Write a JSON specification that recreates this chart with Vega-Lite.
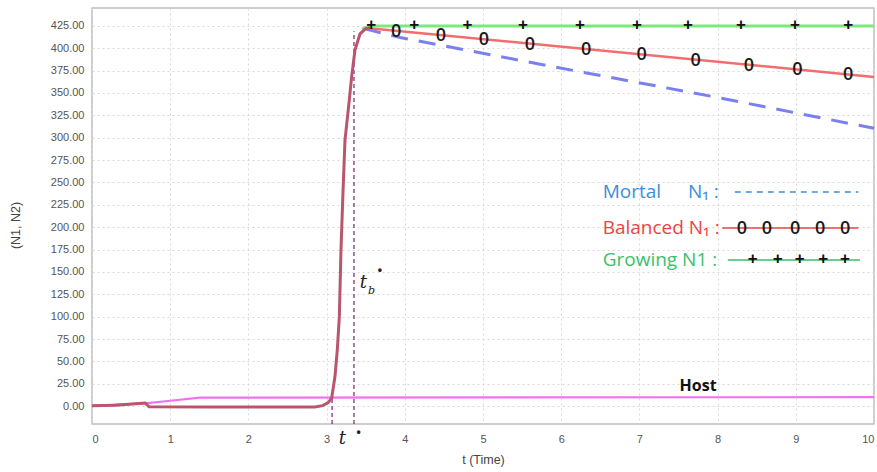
{
  "$schema": "https://vega.github.io/schema/vega-lite/v6.json",
  "width": 782,
  "height": 416,
  "autosize": {"type": "none"},
  "padding": {"left": 92, "top": 8, "right": 3, "bottom": 48},
  "background": "white",
  "config": {
    "view": {"stroke": "#bdbdbd", "strokeWidth": 1.5},
    "font": "Liberation Sans",
    "axis": {
      "labelFont": "Liberation Sans",
      "titleFont": "Liberation Sans",
      "labelColor": "#555555",
      "titleColor": "#444444",
      "labelFontSize": 11,
      "titleFontSize": 12.5,
      "titleFontWeight": "normal",
      "ticks": false,
      "domain": false,
      "grid": true,
      "gridColor": "#d8d8d8",
      "gridDash": [2, 3],
      "gridWidth": 1
    }
  },
  "datasets": {
    "curves": [
      {"s": "Host", "t": 0, "v": 0.5},
      {"s": "Host", "t": 0.68, "v": 3},
      {"s": "Host", "t": 1.0, "v": 6},
      {"s": "Host", "t": 1.38, "v": 9.5},
      {"s": "Host", "t": 10, "v": 10},
      {"s": "Mortal", "t": 3.48, "v": 422},
      {"s": "Mortal", "t": 3.94, "v": 412},
      {"s": "Mortal", "t": 5.86, "v": 380},
      {"s": "Mortal", "t": 7.94, "v": 346},
      {"s": "Mortal", "t": 10, "v": 310.5},
      {"s": "Balanced", "t": 3.48, "v": 423},
      {"s": "Balanced", "t": 10, "v": 368},
      {"s": "Growing", "t": 3.45, "v": 421},
      {"s": "Growing", "t": 3.55, "v": 425},
      {"s": "Growing", "t": 10, "v": 425},
      {"s": "N1", "t": 0, "v": 0.5},
      {"s": "N1", "t": 0.3, "v": 1},
      {"s": "N1", "t": 0.6, "v": 3},
      {"s": "N1", "t": 0.68, "v": 3.5},
      {"s": "N1", "t": 0.73, "v": -0.8},
      {"s": "N1", "t": 1.5, "v": -1},
      {"s": "N1", "t": 2.5, "v": -1},
      {"s": "N1", "t": 2.85, "v": -1},
      {"s": "N1", "t": 2.95, "v": 0.5},
      {"s": "N1", "t": 3.02, "v": 4},
      {"s": "N1", "t": 3.065, "v": 9},
      {"s": "N1", "t": 3.107, "v": 33},
      {"s": "N1", "t": 3.137, "v": 63},
      {"s": "N1", "t": 3.163, "v": 100},
      {"s": "N1", "t": 3.184, "v": 175},
      {"s": "N1", "t": 3.21, "v": 240},
      {"s": "N1", "t": 3.235, "v": 297},
      {"s": "N1", "t": 3.29, "v": 342},
      {"s": "N1", "t": 3.32, "v": 368},
      {"s": "N1", "t": 3.363, "v": 398},
      {"s": "N1", "t": 3.427, "v": 416},
      {"s": "N1", "t": 3.5, "v": 422},
      {"s": "N1", "t": 3.56, "v": 423}
    ],
    "rules": [
      {"t": 3.07, "v1": -20, "v2": 9},
      {"t": 3.35, "v1": -20, "v2": 419}
    ],
    "plus": [
      {"t": 3.57, "v": 425},
      {"t": 4.12, "v": 425},
      {"t": 4.80, "v": 425},
      {"t": 5.51, "v": 425},
      {"t": 6.24, "v": 425},
      {"t": 6.97, "v": 425},
      {"t": 7.62, "v": 425},
      {"t": 8.30, "v": 425},
      {"t": 8.99, "v": 425},
      {"t": 9.67, "v": 425},
      {"t": 8.45, "v": 163.3},
      {"t": 8.77, "v": 163.3},
      {"t": 9.05, "v": 163.3},
      {"t": 9.35, "v": 163.3},
      {"t": 9.63, "v": 163.3}
    ],
    "zeros": [
      {"t": 3.89, "v": 419.7},
      {"t": 4.46, "v": 414.9},
      {"t": 5.01, "v": 410.2},
      {"t": 5.60, "v": 405.2},
      {"t": 6.32, "v": 399.1},
      {"t": 7.03, "v": 393.1},
      {"t": 7.72, "v": 387.3},
      {"t": 8.40, "v": 381.5},
      {"t": 9.02, "v": 376.3},
      {"t": 9.67, "v": 370.8},
      {"t": 8.31, "v": 199},
      {"t": 8.63, "v": 199},
      {"t": 8.99, "v": 199},
      {"t": 9.31, "v": 199},
      {"t": 9.63, "v": 199}
    ],
    "legendLines": [
      {"s": "Mortal", "t": 8.22, "v": 239.4},
      {"s": "Mortal", "t": 9.80, "v": 239.4},
      {"s": "Balanced", "t": 8.06, "v": 199},
      {"s": "Balanced", "t": 9.80, "v": 199},
      {"s": "Growing", "t": 8.13, "v": 163.3},
      {"s": "Growing", "t": 9.82, "v": 163.3}
    ],
    "legendText": [
      {"t": 6.53, "v": 239.4, "label": "Mortal", "c": "Mortal"},
      {"t": 7.62, "v": 239.4, "label": "N₁  :", "c": "Mortal"},
      {"t": 6.53, "v": 199, "label": "Balanced N₁ :", "c": "Balanced"},
      {"t": 6.53, "v": 163.3, "label": "Growing N1 :", "c": "Growing"}
    ],
    "annot": [
      {"t": 3.2, "v": -37, "label": "t", "size": 18},
      {"t": 3.47, "v": 138, "label": "t", "size": 18},
      {"t": 3.575, "v": 129, "label": "b", "size": 11}
    ],
    "stars": [
      {"t": 3.41, "v": -29},
      {"t": 3.68, "v": 152}
    ]
  },
  "encoding": {
    "x": {
      "field": "t", "type": "quantitative",
      "scale": {"domain": [0, 10], "nice": false, "zero": false},
      "axis": {"values": [0,1,2,3,4,5,6,7,8,9,10], "format": "d", "title": "t (Time)", "labelPadding": 9, "titleY": 35, "titleBaseline": "middle"}
    },
    "y": {
      "field": "v", "type": "quantitative",
      "scale": {"domain": [-20, 445], "nice": false, "zero": false},
      "axis": {"values": [0,25,50,75,100,125,150,175,200,225,250,275,300,325,350,375,400,425], "format": ".2f", "title": "(N1, N2)", "labelPadding": 8, "titleX": -77, "titleY": 217, "titleBaseline": "middle", "titleAlign": "center"}
    }
  },
  "layer": [
    {
      "data": {"name": "curves"},
      "transform": [{"filter": "datum.s === 'Host'"}],
      "mark": {"type": "line", "color": "#f270f2", "strokeWidth": 2.2}
    },
    {
      "data": {"name": "curves"},
      "transform": [{"filter": "datum.s === 'Mortal'"}],
      "mark": {"type": "line", "color": "#7b7ff0", "strokeWidth": 3, "strokeDash": [17, 11]}
    },
    {
      "data": {"name": "curves"},
      "transform": [{"filter": "datum.s === 'Balanced'"}],
      "mark": {"type": "line", "color": "#f26e6e", "strokeWidth": 2.5}
    },
    {
      "data": {"name": "curves"},
      "transform": [{"filter": "datum.s === 'Growing'"}],
      "mark": {"type": "line", "color": "#7ee87e", "strokeWidth": 3}
    },
    {
      "data": {"name": "rules"},
      "mark": {"type": "rule", "color": "#8a2f7e", "strokeWidth": 1.3, "strokeDash": [4, 3]},
      "encoding": {"y": {"field": "v1", "type": "quantitative"}, "y2": {"field": "v2"}}
    },
    {
      "data": {"name": "curves"},
      "transform": [{"filter": "datum.s === 'N1'"}],
      "mark": {"type": "line", "color": "#b9566e", "strokeWidth": 3}
    },
    {
      "data": {"name": "legendLines"},
      "mark": {"type": "line", "strokeWidth": 1.5},
      "encoding": {
        "color": {"field": "s", "type": "nominal", "scale": {"domain": ["Mortal", "Balanced", "Growing"], "range": ["#3b8fd6", "#e84545", "#3cbf6a"]}, "legend": null},
        "strokeDash": {"field": "s", "type": "nominal", "scale": {"domain": ["Mortal", "Balanced", "Growing"], "range": [[6, 5], [1, 0], [1, 0]]}, "legend": null}
      }
    },
    {
      "data": {"name": "plus"},
      "mark": {"type": "text", "color": "#111111", "fontSize": 17, "fontWeight": "bold", "font": "Liberation Sans", "baseline": "middle", "align": "center", "dy": -1},
      "encoding": {"text": {"value": "+"}}
    },
    {
      "data": {"name": "zeros"},
      "mark": {"type": "text", "color": "#1a1a1a", "fontSize": 18, "fontWeight": 600, "font": "Open Sans", "baseline": "middle", "align": "center", "dy": 1},
      "encoding": {"text": {"value": "0"}}
    },
    {
      "data": {"name": "legendText"},
      "mark": {"type": "text", "fontSize": 19, "font": "Open Sans", "baseline": "middle", "align": "left"},
      "encoding": {
        "text": {"field": "label"},
        "color": {"field": "c", "type": "nominal", "scale": {"domain": ["Mortal", "Balanced", "Growing"], "range": ["#3b8fd6", "#e84545", "#3cbf6a"]}, "legend": null}
      }
    },
    {
      "data": {"values": [{"t": 7.75, "v": 22.5, "label": "Host"}]},
      "mark": {"type": "text", "color": "#111111", "fontSize": 16, "fontWeight": "bold", "font": "Open Sans", "baseline": "middle", "align": "center"},
      "encoding": {"text": {"field": "label"}}
    },
    {
      "data": {"name": "annot"},
      "mark": {"type": "text", "color": "#222222", "font": "DejaVu Serif", "fontStyle": "italic", "baseline": "middle", "align": "center", "clip": false},
      "encoding": {"text": {"field": "label"}, "size": {"field": "size", "type": "quantitative", "scale": null}}
    },
    {
      "data": {"name": "stars"},
      "mark": {"type": "text", "color": "#222222", "fontSize": 12, "fontWeight": "bold", "baseline": "middle", "align": "center", "clip": false},
      "encoding": {"text": {"value": "•"}}
    }
  ]
}
